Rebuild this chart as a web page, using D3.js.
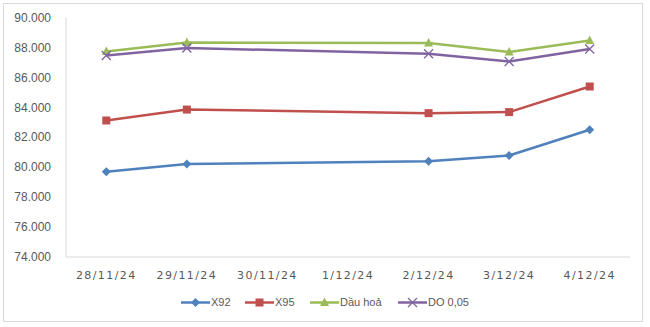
<!DOCTYPE html>
<html><head><meta charset="utf-8">
<script src="https://cdn.jsdelivr.net/npm/d3@7"></script>
<style>body{margin:0;background:#fff}svg{display:block}</style>
</head><body>
<svg id="c" width="650" height="327"></svg>
<script>
const categories = ["28/11/24","29/11/24","30/11/24","1/12/24","2/12/24","3/12/24","4/12/24"];
const pointDates = ["28/11/24","29/11/24","2/12/24","3/12/24","4/12/24"];
const seriesNames = ["X92","X95","Dầu hoả","DO 0,05"];
const x92 = [79690,80220,80390,80780,82500];
const x95 = [83120,83850,83610,83680,85390];
const dauHoa = [87730,88330,88290,87690,88470];
const do005 = [87460,87960,87580,87060,87890];
const yTicks = [74000,76000,78000,80000,82000,84000,86000,88000,90000];
const colors = ["#4F81BD","#C0504D","#9BBB59","#8064A2"];
const markers = ["diamond","square","triangle","cross"];
const allValues = [x92,x95,dauHoa,do005];

const svg = d3.select("#c");
svg.append("rect").attr("x",3.5).attr("y",3.5).attr("width",639).attr("height",318)
  .attr("fill","#fff").attr("stroke","#d9d9d9");

const x = d3.scaleBand().domain(categories).range([66,630]);
const y = d3.scaleLinear().domain([74000,90000]).range([257,17.5]);
const fmt = v => d3.format(",.3f")(v/1000).replace(",", "");

// y axis labels
svg.append("g").selectAll("text").data(yTicks).join("text")
  .attr("x",51).attr("y",d=>y(d)).attr("dy","0.35em").attr("text-anchor","end")
  .attr("font-family","Liberation Sans, Arial, sans-serif").attr("font-size","12px")
  .attr("fill","#595959").text(d=>fmt(d));

// axes lines
svg.append("line").attr("x1",66).attr("x2",66).attr("y1",y(90000)).attr("y2",y(74000))
  .attr("stroke","#d9d9d9").attr("stroke-width",1);
svg.append("line").attr("x1",66).attr("x2",630).attr("y1",y(74000)).attr("y2",y(74000))
  .attr("stroke","#d9d9d9").attr("stroke-width",1);

// x labels
svg.append("g").selectAll("text").data(categories).join("text")
  .attr("x",d=>x(d)+x.bandwidth()/2).attr("y",275).attr("dy","0.35em").attr("text-anchor","middle")
  .attr("font-family","DejaVu Sans, sans-serif").attr("font-size","11px").attr("letter-spacing","1.4px")
  .attr("fill","#595959").text(d=>d);

function marker(g, type, color, cx, cy){
  if(type==="diamond"){
    g.append("path").attr("d",`M${cx},${cy-4.5}L${cx+4.5},${cy}L${cx},${cy+4.5}L${cx-4.5},${cy}Z`).attr("fill",color);
  } else if(type==="square"){
    g.append("rect").attr("x",cx-4).attr("y",cy-4).attr("width",8).attr("height",8).attr("fill",color);
  } else if(type==="triangle"){
    g.append("path").attr("d",`M${cx},${cy-5}L${cx+4.5},${cy+3.5}L${cx-4.5},${cy+3.5}Z`).attr("fill",color);
  } else {
    g.append("path").attr("d",`M${cx-4.5},${cy-4.5}L${cx+4.5},${cy+4.5}M${cx+4.5},${cy-4.5}L${cx-4.5},${cy+4.5}`)
      .attr("stroke",color).attr("stroke-width",1.3).attr("fill","none");
  }
}

const cx = d => x(d)+x.bandwidth()/2;
const line = d3.line().x(d=>cx(d[0])).y(d=>y(d[1]));
allValues.forEach((vals,i)=>{
  const pts = pointDates.map((d,j)=>[d,vals[j]]);
  const g = svg.append("g");
  g.append("path").attr("d",line(pts)).attr("fill","none").attr("stroke",colors[i])
    .attr("stroke-width",2.5).attr("stroke-linejoin","round");
  pts.forEach(p=>marker(g,markers[i],colors[i],cx(p[0]),y(p[1])));
});

// legend
const legX = [181,245,310,398];
seriesNames.forEach((n,i)=>{
  const g = svg.append("g");
  g.append("line").attr("x1",legX[i]).attr("x2",legX[i]+29).attr("y1",302.5).attr("y2",302.5)
    .attr("stroke",colors[i]).attr("stroke-width",2.5);
  marker(g,markers[i],colors[i],legX[i]+14.5,302.5);
  g.append("text").attr("x",legX[i]+30).attr("y",302.5).attr("dy","0.35em")
    .attr("font-family","Liberation Sans, Arial, sans-serif").attr("font-size","11px")
    .attr("fill","#595959").text(n);
});
</script>
</body></html>
